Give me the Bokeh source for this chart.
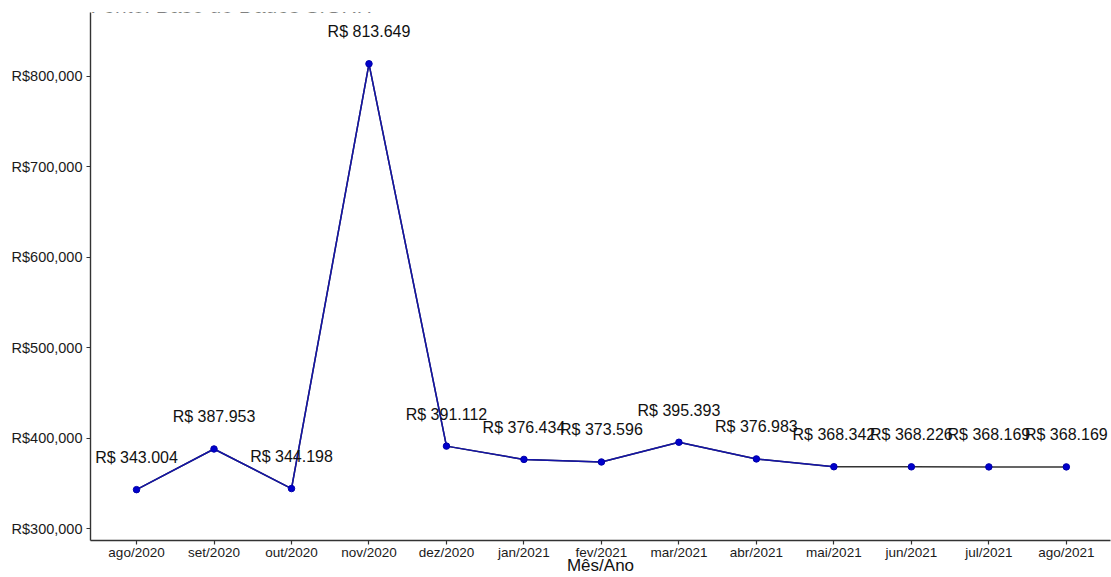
from bokeh.plotting import figure
from bokeh.models import Range1d, FixedTicker, Label
from bokeh.embed import file_html
from bokeh.resources import INLINE
from bokeh.core.properties import value

months = ["ago/2020", "set/2020", "out/2020", "nov/2020", "dez/2020", "jan/2021",
          "fev/2021", "mar/2021", "abr/2021", "mai/2021", "jun/2021", "jul/2021", "ago/2021"]
values = [343004, 387953, 344198, 813649, 391112, 376434, 373596,
          395393, 376983, 368342, 368226, 368169, 368169]
value_labels = ["R$ 343.004", "R$ 387.953", "R$ 344.198", "R$ 813.649", "R$ 391.112",
                "R$ 376.434", "R$ 373.596", "R$ 395.393", "R$ 376.983", "R$ 368.342",
                "R$ 368.226", "R$ 368.169", "R$ 368.169"]
y_ticks = [300000, 400000, 500000, 600000, 700000, 800000]
y_tick_labels = ["R$300,000", "R$400,000", "R$500,000", "R$600,000", "R$700,000", "R$800,000"]
title_text = "Fonte: Base de Dados SIGRH"
x_title = "Mês/Ano"
blue_points = 10

FONT = "Liberation Sans"
xs = list(range(len(months)))

y0, y1 = 286813, 870330
px = (y1 - y0) / 531.0

p = figure(width=1111, height=577, output_backend="svg", toolbar_location=None,
           x_range=Range1d(-0.594, 12.57), y_range=Range1d(y0, y1),
           min_border_left=90, min_border_right=1, min_border_top=12, min_border_bottom=34)
p.styles = {"position": "absolute", "top": "0px", "left": "0px"}
p.outline_line_color = None
p.background_fill_color = "white"
p.border_fill_color = "white"
p.xgrid.visible = False
p.ygrid.visible = False

for ax in (p.xaxis[0], p.yaxis[0]):
    ax.axis_line_color = "#333333"
    ax.axis_line_width = 1.4
    ax.major_tick_line_color = "#333333"
    ax.major_tick_line_width = 1.2
    ax.major_tick_in = 0
    ax.major_tick_out = 4
    ax.minor_tick_line_color = None
    ax.major_label_text_color = "#1a1a1a"
    ax.major_label_text_font = FONT

p.xaxis.ticker = FixedTicker(ticks=xs)
p.xaxis.major_label_overrides = {i: m for i, m in zip(xs, months)}
p.xaxis.major_label_text_font_size = "13.5px"
p.xaxis.major_label_standoff = 0
p.xaxis.axis_label = x_title
p.xaxis.axis_label_text_font = FONT
p.xaxis.axis_label_text_font_size = "17px"
p.xaxis.axis_label_text_font_style = "normal"
p.xaxis.axis_label_text_color = "#111111"
p.xaxis.axis_label_standoff = -7

p.yaxis.ticker = FixedTicker(ticks=y_ticks)
p.yaxis.major_label_overrides = {t: l for t, l in zip(y_ticks, y_tick_labels)}
p.yaxis.major_label_text_font_size = "14.5px"
p.yaxis.major_label_standoff = 4

p.line(xs, values, line_color="#333333", line_width=1.5)
p.line(xs[:blue_points], values[:blue_points], line_color="#1414a8", line_width=1.5)
p.scatter(xs, values, size=6.5, fill_color="#0000cc", line_color="#0000aa")

p.text(xs, values, text=value_labels, y_offset=-32, text_align="center",
       text_baseline="middle", text_font=value(FONT), text_font_size="16px",
       text_color="#111111")

p.add_layout(Label(x=-0.594, y=y1 + 7 * px, text=title_text, text_font=FONT,
                   text_font_size="21px", text_align="left", text_baseline="alphabetic",
                   text_color="#111111"))

open("out.html", "w").write(file_html(p, INLINE))
